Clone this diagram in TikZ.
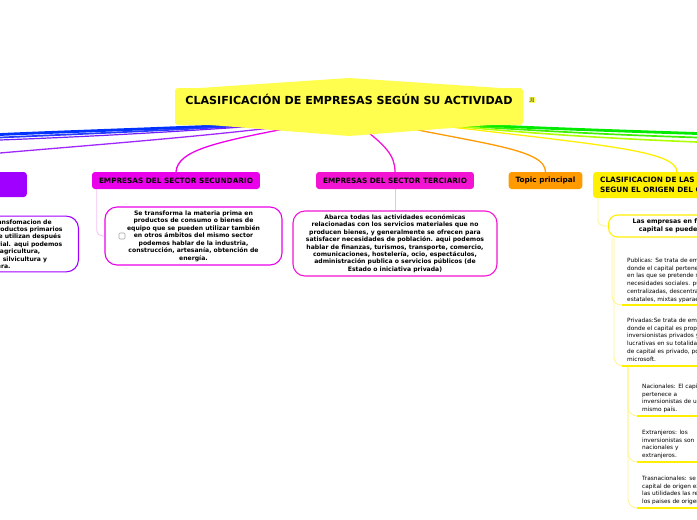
\documentclass[tikz,border=0pt]{standalone}
\usepackage{fontspec}
\setmainfont{DejaVu Sans}
\newfontfamily\tagfont{Liberation Serif}
\usetikzlibrary{positioning,backgrounds}

\definecolor{rootyellow}{HTML}{FFFD4D}
\definecolor{purplenode}{HTML}{A000FF}
\definecolor{secmag}{HTML}{EA00EA}
\definecolor{termag}{HTML}{F214D2}
\definecolor{topicorange}{HTML}{FF9A00}
\definecolor{clayellow}{HTML}{FFEF00}
\definecolor{paleyellow}{HTML}{FFF38C}
\definecolor{palepink}{HTML}{F7BEF7}
\definecolor{palerose}{HTML}{FFB6EA}

\tikzset{
  root/.style={fill=rootyellow, rounded corners=3pt, minimum width=348, inner ysep=0pt,
    text height=16, text depth=21, font=\fontsize{11.1}{13}\selectfont\bfseries},
  sector/.style={rounded corners=3pt, minimum height=17, inner xsep=7, inner ysep=2,
    font=\fontsize{7.3}{10}\selectfont\bfseries},
  infobox/.style={draw, fill=white, line width=1.1pt, rounded corners=12pt, align=center,
    inner xsep=8, inner ysep=3, font=\fontsize{6.1}{7.45}\selectfont\bfseries},
  empbox/.style={draw=clayellow, fill=white, line width=1.1pt, rounded corners=9pt, align=center,
    inner xsep=24, minimum height=22, font=\fontsize{6.3}{8}\selectfont\bfseries},
  leaf/.style={anchor=north west, align=left, inner sep=0pt, font=\fontsize{5.8}{7.9}\selectfont},
  leafline/.style={clayellow, line width=2.6pt},
  branch/.style={line width=1.3pt},
  subline/.style={line width=0.8pt, rounded corners=6pt},
}

\begin{document}
\begin{tikzpicture}[x=1pt,y=-1pt]
\useasboundingbox (0,0) rectangle (697,520);
\clip (0,0) rectangle (697,520);
%
% central topic
\fill[rootyellow] (185,89) -- (349,78) -- (515,89) -- cycle;
\fill[rootyellow] (185,123) -- (349,136) -- (515,123) -- cycle;
\node[root, anchor=base] (root) at (349,104) {CLASIFICACIÓN DE EMPRESAS SEGÚN SU ACTIVIDAD};
\node[fill=rootyellow, inner sep=1pt, font=\tagfont\fontsize{6.5}{6.5}\selectfont] (ji) at (532,100) {JI};
%
% main topics
\node[sector, fill=purplenode, minimum width=90, minimum height=25, anchor=east] (pri) at (27,184.5) {};
\node[sector, fill=secmag] (sec) at (176,180.5) {EMPRESAS DEL SECTOR SECUNDARIO};
\node[sector, fill=termag] (ter) at (395,180.5) {EMPRESAS DEL SECTOR TERCIARIO};
\node[sector, fill=topicorange] (top) at (545.5,180.5) {Topic principal};
\node[sector, fill=clayellow, anchor=west, align=left, minimum height=26] (cla) at (593,185)
  {CLASIFICACION DE LAS EMPRESAS\\SEGUN EL ORIGEN DEL CAPITAL};
%
% subtopics
\node[infobox, draw=purplenode, text width=180, anchor=east, inner xsep=5] (pribox) at (79,244)
  {Abarca la obtención y transfomacion de\\los recursos naturales en productos primarios\\no elaborados, los cuales se utilizan después\\como materia prima industrial. aqui podemos\\hablar de la minería, agricultura,\\ganadería, caza, pesca, silvicultura y\\tala de madera.};
\node[infobox, draw=secmag, minimum width=177, minimum height=58] (secbox) at (193.5,236)
  {Se transforma la materia prima en\\productos de consumo o bienes de\\equipo que se pueden utilizar también\\en otros ámbitos del mismo sector\\podemos hablar de la industria,\\construcción, artesanía, obtención de\\energía.};
\node[draw=gray!70, fill=white, rounded corners=1pt, minimum size=6, inner sep=0pt, line width=0.6pt] (chk) at (122,236) {};
\node[infobox, draw=termag, minimum width=204, minimum height=65, inner xsep=3] (terbox) at (395,243.5)
  {Abarca todas las actividades económicas\\relacionadas con los servicios materiales que no\\producen bienes, y generalmente se ofrecen para\\satisfacer necesidades de población. aqui podemos\\hablar de finanzas, turismos, transporte, comercio,\\comunicaciones, hostelería, ocio, espectáculos,\\administración publica o servicios públicos (de\\Estado o iniciativa privada)};
\node[empbox, anchor=west] (emp) at (608,226) {Las empresas en función de su\\capital se puede dividir en:};
%
% leaves
\node[leaf] (pub) at (627,257.5) {Publicas: Se trata de empresas\\donde el capital pertenece al estado\\en las que se pretende satisfacer\\necesidades sociales. pueden ser\\centralizadas, descentralizadas,\\estatales, mixtas yparaestatales.};
\node[leaf] (priv) at (627,317.5) {Privadas:Se trata de empresas\\donde el capital es propiedad de\\inversionistas privados y con\\lucrativas en su totalidad. el\\de capital es privado, por ejemplo\\microsoft.};
\node[leaf] (nac) at (642,383.5) {Nacionales: El capital\\pertenece a\\inversionistas de un\\mismo país.};
\node[leaf] (ext) at (642,429.5) {Extranjeros: los\\inversionistas son\\nacionales y\\extranjeros.};
\node[leaf] (tra) at (642,475.5) {Trasnacionales: se\\capital de origen extranjero\\las utilidades las reinvierten en\\los paises de origen.};
\foreach \n/\x/\y in {pubu/622/305, privu/622/366, nacu/637/416, extu/637/462, trau/637/508}{
  \coordinate (\n) at (\x,\y);
  \draw[leafline] (\n) -- ++(90,0);
}
%
% connectors
\coordinate (offa) at (0,134.5);
\coordinate (offb) at (0,137.5);
\coordinate (offc) at (0,140);
\coordinate (offd) at (0,153);
\coordinate (offe) at (697,133.5);
\coordinate (offf) at (697,137.5);
\coordinate (offg) at (697,142);
\begin{scope}[on background layer]
\draw[line width=2.8pt, color={rgb,255:red,0;green,50;blue,255}] ([shift={(-70,-2)}]root.south) .. controls (180,128) and (80,131) .. (offa);
\draw[line width=1.7pt, color={rgb,255:red,40;green,60;blue,255}] ([shift={(-60,-2)}]root.south) .. controls (180,130) and (80,134) .. (offb);
\draw[line width=1.2pt, color={rgb,255:red,110;green,30;blue,255}] ([shift={(-55,-2)}]root.south) .. controls (180,132) and (80,137) .. (offc);
\draw[line width=1.3pt, color={rgb,255:red,160;green,40;blue,255}] ([shift={(-55,0)}]root.south) .. controls (200,137) and (80,146) .. (offd);
\draw[line width=2.8pt, color={rgb,255:red,0;green,235;blue,0}] ([shift={(90,-2)}]root.south) .. controls (530,128) and (620,131) .. (offe);
\draw[line width=1.7pt, color={rgb,255:red,60;green,240;blue,0}] ([shift={(80,-2)}]root.south) .. controls (530,131) and (620,135) .. (offf);
\draw[line width=1.6pt, color={rgb,255:red,175;green,255;blue,0}] ([shift={(75,-2)}]root.south) .. controls (530,134) and (620,139) .. (offg);
\draw[branch, secmag] ([shift={(-45,0)}]root.south) .. controls (215,142) and (178,150) .. (sec.north);
\draw[branch, termag] ([shift={(10,0)}]root.south) .. controls (385,145) and (395,155) .. (ter.north);
\draw[branch, topicorange] ([shift={(45,0)}]root.south) .. controls (490,145) and (545,150) .. (top.north);
\draw[branch, clayellow] ([shift={(70,-2)}]root.south) .. controls (600,145) and (676,150) .. ([xshift=84]cla.north west);
\draw[subline, purplenode!30] ([xshift=5]pri.south west) |- (pribox.west);
\draw[subline, palepink] ([xshift=5]sec.south west) |- (secbox.west);
\draw[subline, palerose] (ter.south) -- (terbox.north);
\draw[subline, paleyellow] ([xshift=5]cla.south west) |- (emp.west);
\draw[subline, paleyellow, rounded corners=9pt] ([xshift=4]emp.south west) |- (pubu);
\draw[subline, paleyellow, rounded corners=9pt] ([xshift=6]emp.south west) |- (privu);
\draw[subline, paleyellow, rounded corners=9pt] ([xshift=6]privu) |- (nacu);
\draw[subline, paleyellow, rounded corners=9pt] ([xshift=6]privu) |- (extu);
\draw[subline, paleyellow, rounded corners=9pt] ([xshift=6]privu) |- (trau);
\end{scope}
%
\end{tikzpicture}
\end{document}
